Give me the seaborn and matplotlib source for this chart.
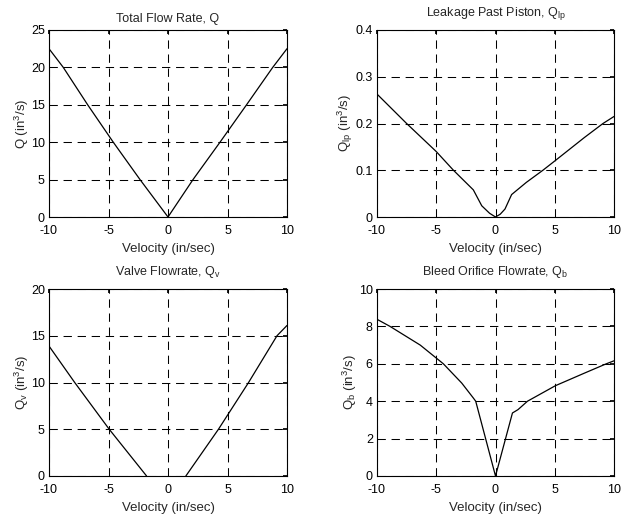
import matplotlib
matplotlib.use("Agg")
import matplotlib.pyplot as plt
import seaborn as sns
import pandas as pd
from matplotlib.ticker import FuncFormatter

# Data
q_v = [-10, -8.8, -6.75, -4.6, -2.35, 0, 2.1, 4.37, 6.6, 8.8, 10]
q_y = [22.5, 20, 15, 10, 5, 0, 5, 10, 15, 20, 22.5]

lp_v = [-10, -7.5, -5, -3.55, -1.87, -1.16, -0.5, 0, 0.4, 0.8, 1.36, 2.6, 4.0, 5.06, 7.5, 9.07, 10]
lp_y = [0.263, 0.2, 0.14, 0.1, 0.058, 0.024, 0.008, 0.0, 0.006, 0.017, 0.048, 0.074, 0.1, 0.121, 0.17, 0.2, 0.215]

v_v_left = [-10, -7.84, -4.94, -1.8]
v_y_left = [13.9, 10, 5, 0]
v_v_right = [1.5, 4.24, 6.77, 9.16, 10]
v_y_right = [0, 5, 10, 15, 16.1]

b_v = [-10, -8.9, -6.35, -4.4, -2.85, -1.87, -1.67, 0, 1.43, 1.9, 2.7, 5.06, 7.5, 9.35, 10]
b_y = [8.38, 8, 7, 6, 4.97, 4.17, 4.0, 0, 3.37, 3.55, 4.0, 4.83, 5.5, 6.0, 6.16]

xticks = [-10, -5, 0, 5, 10]

sns.set_theme(style="white")
plt.rcParams['font.family'] = ['Liberation Sans', 'DejaVu Sans']
plt.rcParams['mathtext.fontset'] = 'custom'
plt.rcParams['mathtext.rm'] = 'Liberation Sans'
plt.rcParams['mathtext.it'] = 'Liberation Sans'
plt.rcParams['axes.unicode_minus'] = False

fig = plt.figure(figsize=(6.29, 5.14), dpi=100)
W, H = 629, 514
def add_ax(x0, x1, y0, y1):
    return fig.add_axes([x0 / W, 1 - y1 / H, (x1 - x0) / W, (y1 - y0) / H])

axes = [add_ax(49, 287, 30, 217), add_ax(377, 614, 30, 217),
        add_ax(49, 287, 289, 476), add_ax(377, 614, 289, 476)]

specs = [
    (axes[0], [(q_v, q_y)], (0, 25), [0, 5, 10, 15, 20, 25], "Total Flow Rate, Q", "Q (in$^3$/s)", 6),
    (axes[1], [(lp_v, lp_y)], (0, 0.4), [0, 0.1, 0.2, 0.3, 0.4], "Leakage Past Piston, Q$_{\\mathrm{lp}}$", "Q$_{\\mathrm{lp}}$ (in$^3$/s)", 10),
    (axes[2], [(v_v_left, v_y_left), (v_v_right, v_y_right)], (0, 20), [0, 5, 10, 15, 20], "Valve Flowrate, Q$_{\\mathrm{v}}$", "Q$_{\\mathrm{v}}$ (in$^3$/s)", 10),
    (axes[3], [(b_v, b_y)], (0, 10), [0, 2, 4, 6, 8, 10], "Bleed Orifice Flowrate, Q$_{\\mathrm{b}}$", "Q$_{\\mathrm{b}}$ (in$^3$/s)", 10),
]

for ax, series, ylim, yticks, title, ylabel, tpad in specs:
    for xs, ys in series:
        df = pd.DataFrame({"v": xs, "q": ys})
        sns.lineplot(data=df, x="v", y="q", ax=ax, color="black", linewidth=0.9, sort=False, estimator=None)
    ax.set_xlim(-10, 10)
    ax.set_ylim(*ylim)
    ax.set_xticks(xticks)
    ax.set_yticks(yticks)
    ax.yaxis.set_major_formatter(FuncFormatter(lambda v, p: f"{v:g}"))
    ax.grid(True, color="black", linestyle=(0, (8, 5.5)), linewidth=0.75)
    ax.set_axisbelow(True)
    ax.tick_params(direction="in", length=3, labelsize=9, colors="black", top=True, right=True)
    ax.tick_params(axis="x", pad=6)
    ax.tick_params(axis="y", pad=3)
    for s in ax.spines.values():
        s.set_color("black")
        s.set_linewidth(0.8)
    ax.set_title(title, fontsize=9, pad=tpad)
    ax.set_xlabel("Velocity (in/sec)", fontsize=9.5, labelpad=4)
    ax.set_ylabel(ylabel, fontsize=9.5, labelpad=0)

fig.savefig("out.png", dpi=100)
